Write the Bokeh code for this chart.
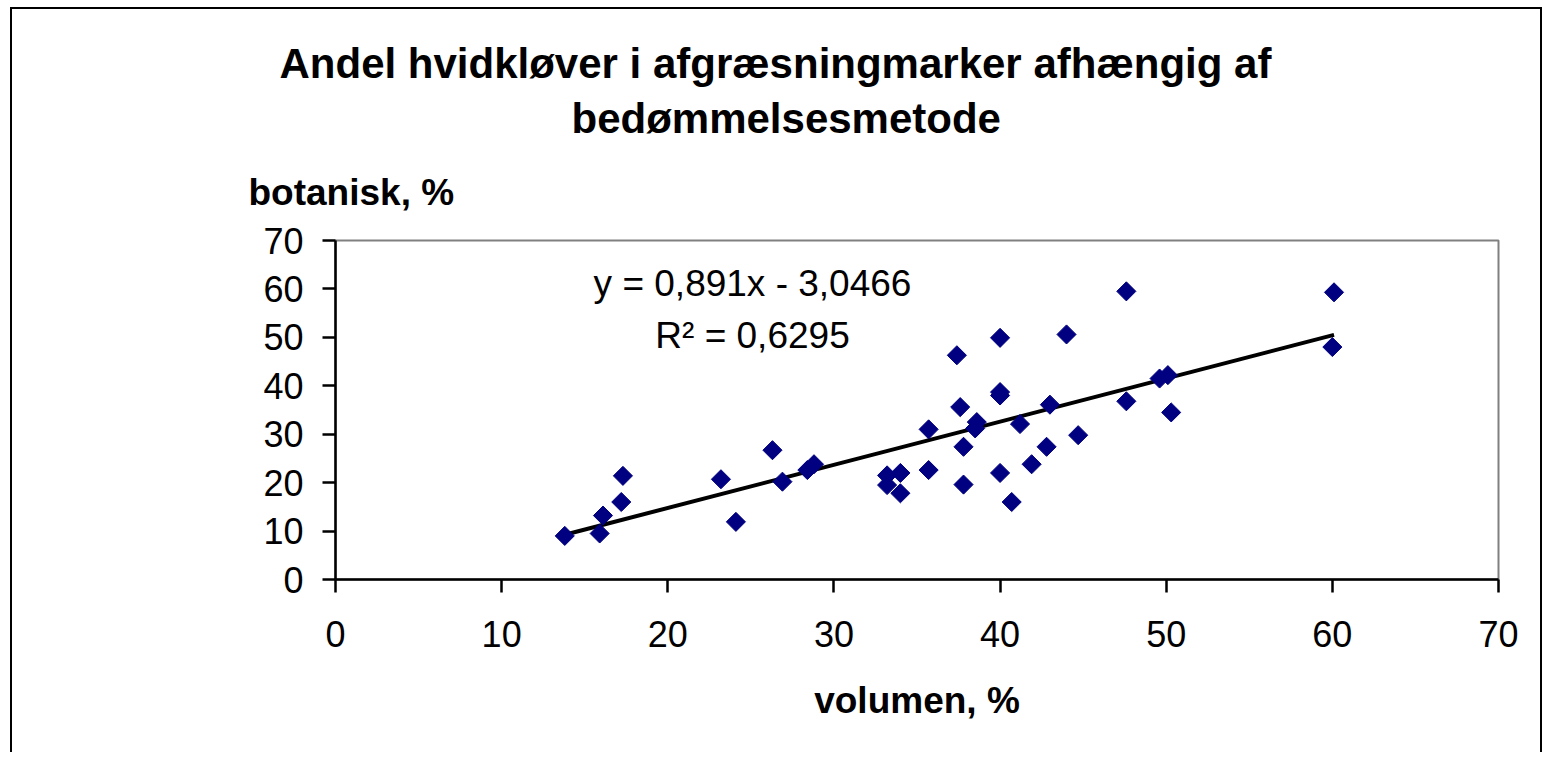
import math
from bokeh.plotting import figure
from bokeh.models import Label, FixedTicker, Range1d, Title
from bokeh.embed import file_html
from bokeh.resources import INLINE

# Data
volumen = [13.8, 15.9, 16.1, 17.2, 17.3, 23.2, 24.1, 26.3, 26.9, 28.4, 28.8,
           33.2, 34.0, 33.2, 34.0, 35.7, 35.7, 37.6, 37.8, 37.8, 38.6, 38.5,
           40.0, 40.7, 41.2, 41.9, 42.8, 43.0, 44.7, 47.6, 50.3, 47.6, 40.0,
           44.0, 37.4, 40.0, 40.0, 49.6, 50.1, 60.1, 60.0]
botanisk = [9.0, 9.5, 13.2, 16.0, 21.4, 20.7, 11.9, 26.7, 20.2, 22.6, 23.8,
            21.5, 22.0, 19.5, 17.8, 22.6, 31.0, 35.6, 27.4, 19.6, 32.5, 31.2,
            22.0, 16.0, 32.1, 23.8, 27.4, 36.1, 29.8, 36.8, 34.5, 59.5, 49.9,
            50.6, 46.3, 38.7, 38.0, 41.5, 42.2, 59.3, 48.0]
slope = 0.891
intercept = -3.0466
r2 = "0,6295"
ticks = [0, 10, 20, 30, 40, 50, 60, 70]

title_1 = "Andel hvidkløver i afgræsningmarker afhængig af"
title_2 = "bedømmelsesmetode"
y_label = "botanisk, %"
x_label = "volumen, %"
eq_text = "y = 0,891x - 3,0466"
r2_text = "R² = " + r2

FONT = "Liberation Sans"

p = figure(width=1532, height=745, output_backend="svg", toolbar_location=None,
           x_range=Range1d(0, 70), y_range=Range1d(0, 70),
           min_border_left=323, min_border_right=46, min_border_top=231,
           min_border_bottom=175)
p.xgrid.visible = False
p.ygrid.visible = False
p.background_fill_color = "white"
p.border_fill_color = "white"
p.outline_line_color = "#808080"
p.outline_line_width = 2

for ax in (p.xaxis[0], p.yaxis[0]):
    ax.ticker = FixedTicker(ticks=ticks)
    ax.axis_line_color = "black"
    ax.axis_line_width = 2.5
    ax.major_tick_line_color = "black"
    ax.major_tick_line_width = 2.5
    ax.major_tick_in = 0
    ax.major_tick_out = 13
    ax.minor_tick_line_color = None
    ax.major_label_text_font = FONT
    ax.major_label_text_font_size = "36px"
    ax.major_label_text_color = "black"

p.yaxis[0].major_label_standoff = 19
p.xaxis[0].major_label_standoff = 28
p.xaxis[0].axis_label = x_label
p.xaxis[0].axis_label_text_font = FONT
p.xaxis[0].axis_label_text_font_size = "37px"
p.xaxis[0].axis_label_text_font_style = "bold"
p.xaxis[0].axis_label_text_color = "black"
p.xaxis[0].axis_label_standoff = 30

# outermost title line
p.title.text = title_1
p.title.align = "left"
p.title.offset = -56
p.title.text_font = FONT
p.title.text_font_size = "42px"
p.title.text_font_style = "bold"
p.title.text_color = "black"
p.title.standoff = 12

# y axis caption, nearest to the frame
t_y = Title(text=y_label, align="left", offset=-87, text_font=FONT,
            text_font_size="37px", text_font_style="bold", text_color="black",
            standoff=56)
p.add_layout(t_y, "above")
t2 = Title(text=title_2, align="left", offset=236, text_font=FONT,
           text_font_size="42px", text_font_style="bold", text_color="black",
           standoff=0)
p.add_layout(t2, "above")

# trend line from the regression coefficients
x_tr = [min(volumen), max(volumen)]
y_tr = [slope * v + intercept for v in x_tr]
p.line(x_tr, y_tr, line_color="black", line_width=4)

p.scatter(volumen, botanisk, marker="square", angle=math.pi / 4, size=13.5,
          fill_color="#000080", line_color="#000080")

# equation texts
p.add_layout(Label(x=25.1, y=61.1, text=eq_text, text_align="center",
                   text_baseline="middle", text_font=FONT,
                   text_font_size="37px", text_color="black"))
p.add_layout(Label(x=25.1, y=50.4, text=r2_text, text_align="center",
                   text_baseline="middle", text_font=FONT,
                   text_font_size="37px", text_color="black"))

p.styles = {"margin-left": "10px", "margin-top": "7px",
            "border-left": "2px solid black", "border-top": "2px solid black",
            "border-right": "2px solid black"}

open("out.html", "w").write(file_html(p, INLINE))
